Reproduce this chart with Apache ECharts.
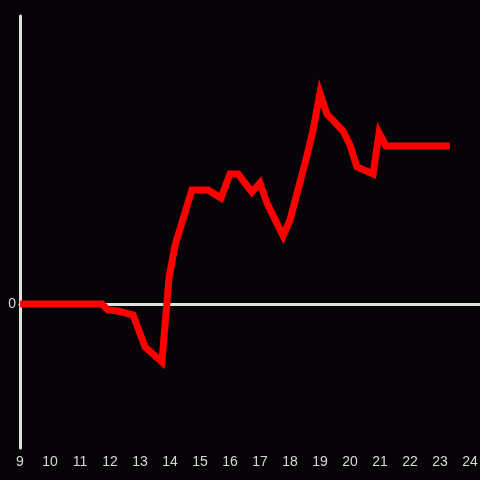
<!DOCTYPE html>
<html>
<head>
<meta charset="utf-8">
<script src="https://cdn.jsdelivr.net/npm/echarts@6/dist/echarts.min.js"></script>
<style>
  html, body { margin: 0; padding: 0; background: #060407; }
  #chart { width: 480px; height: 480px; }
</style>
</head>
<body>
<div id="chart"></div>
<script>
// hour of day
var hours = [9, 11.73, 11.93, 12.27, 12.77, 13.17, 13.73, 13.97, 14.17, 14.73, 15.27, 15.7, 16.0, 16.27,
  16.73, 17.0, 17.23, 17.77, 18.0, 18.53, 18.77, 19.0, 19.23, 19.77, 20.0, 20.23, 20.77, 20.97, 21.2, 23.33];
// value (relative units)
var values = [0, 0, -6, -7, -11, -43, -58, 27, 59, 114, 114, 106, 130, 130,
  112, 121, 101, 68, 84, 144, 174, 211, 190, 173, 159, 137, 130, 171, 158, 158];
var xTicks = [9, 10, 11, 12, 13, 14, 15, 16, 17, 18, 19, 20, 21, 22, 23, 24];

var pts = [];
for (var i = 0; i < hours.length; i++) {
  pts.push([hours[i], values[i]]);
}

var myChart = echarts.init(document.getElementById('chart'));
var axisColor = '#e0e0e0';
var option = {
  backgroundColor: '#060407',
  animation: false,
  grid: { left: 20, right: 0, top: 16, bottom: 32, containLabel: false, outerBoundsMode: 'none' },
  xAxis: [
    {
      // zero line
      type: 'value', min: 9, max: 24.333, interval: 1,
      axisLine: { show: true, onZero: true, lineStyle: { color: axisColor, width: 3 } },
      axisTick: { show: false },
      axisLabel: { show: false },
      splitLine: { show: false }
    },
    {
      type: 'value', position: 'bottom', min: 9, max: 24.333, interval: 1,
      axisLine: { show: false, onZero: false },
      axisTick: { show: false },
      axisLabel: {
        color: '#d8d8d8', fontSize: 14, fontFamily: 'Liberation Sans', margin: 7,
        formatter: function (v) { return xTicks.indexOf(v) >= 0 ? String(v) : ''; }
      },
      splitLine: { show: false }
    }
  ],
  yAxis: {
    type: 'value', min: -144, max: 288,
    axisLine: { show: true, onZero: false, lineStyle: { color: axisColor, width: 3 } },
    axisTick: { show: false },
    axisLabel: {
      color: '#d8d8d8', fontSize: 14, fontFamily: 'Liberation Sans', margin: 4,
      formatter: function (v) { return v === 0 ? '0' : ''; }
    },
    splitLine: { show: false }
  },
  series: [{
    type: 'line',
    xAxisIndex: 0,
    data: pts,
    showSymbol: false,
    z: 5,
    lineStyle: { color: '#ff0000', width: 7, cap: 'butt', join: 'miter' }
  }]
};
myChart.setOption(option);
</script>
</body>
</html>
